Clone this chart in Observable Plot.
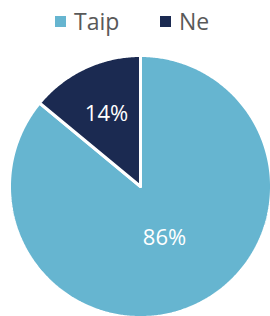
<!DOCTYPE html>
<html><head><meta charset="utf-8">
<script src="https://cdn.jsdelivr.net/npm/d3@7"></script>
<script src="https://cdn.jsdelivr.net/npm/@observablehq/plot@0.6"></script>
<style>
body{margin:0;background:#fff;font-family:'Open Sans',sans-serif;width:270px;height:316px;overflow:hidden}
#legend{height:44px;position:relative}
.item{position:absolute;top:6px;display:flex;align-items:center;font-size:23px;color:#595959;line-height:30px}
.sw{width:11px;height:11px;margin-right:8px}
#chart svg{display:block}
</style></head><body>
<div id="legend"></div><div id="chart"></div>
<script>
const categories = ["Taip", "Ne"];
const values = [86, 14];
const labels = ["86%", "14%"];
const colors = ["#66b5d0", "#1b2a51"];

// legend
const legendLeft = [55, 160];
const legend = document.getElementById("legend");
categories.forEach((c, i) => {
  const it = document.createElement("div");
  it.className = "item";
  it.style.left = legendLeft[i] + "px";
  it.innerHTML = `<span class="sw" style="background:${colors[i]}"></span><span>${c}</span>`;
  legend.appendChild(it);
});

// geometry from d3.pie
const arcs = d3.pie().sort(null).value(d => d.value)(categories.map((c, i) => ({cat: c, value: values[i], label: labels[i]})));
const pts = [];
arcs.forEach(a => {
  const n = Math.max(2, Math.ceil((a.endAngle - a.startAngle) / 0.01));
  pts.push({cat: a.data.cat, x: 0, y: 0});
  for (let k = 0; k <= n; k++) {
    const t = a.startAngle + (a.endAngle - a.startAngle) * k / n;
    pts.push({cat: a.data.cat, x: Math.sin(t), y: Math.cos(t)});
  }
  pts.push({cat: a.data.cat, x: 0, y: 0});
});
const labelR = [0.43, 0.61];
const lab = arcs.map((a, i) => {
  const m = (a.startAngle + a.endAngle) / 2;
  return {label: a.data.label, x: labelR[i] * Math.sin(m), y: labelR[i] * Math.cos(m)};
});

const R = 131, cx = 140, cy = 142;
const chart = Plot.plot({
  width: 270, height: 272, margin: 0,
  style: {fontFamily: "'Open Sans', sans-serif", background: "transparent"},
  x: {domain: [-cx / R, (270 - cx) / R], axis: null},
  y: {domain: [-(272 - cy) / R, cy / R], axis: null},
  color: {domain: categories, range: colors},
  marks: [
    Plot.line(pts, {x: "x", y: "y", z: "cat", fill: "cat", stroke: "white", strokeWidth: 3, strokeLinejoin: "miter"}),
    Plot.text(lab, {x: "x", y: "y", text: "label", fill: "white", fontSize: 22})
  ]
});
document.getElementById("chart").appendChild(chart);
</script>
</body></html>
